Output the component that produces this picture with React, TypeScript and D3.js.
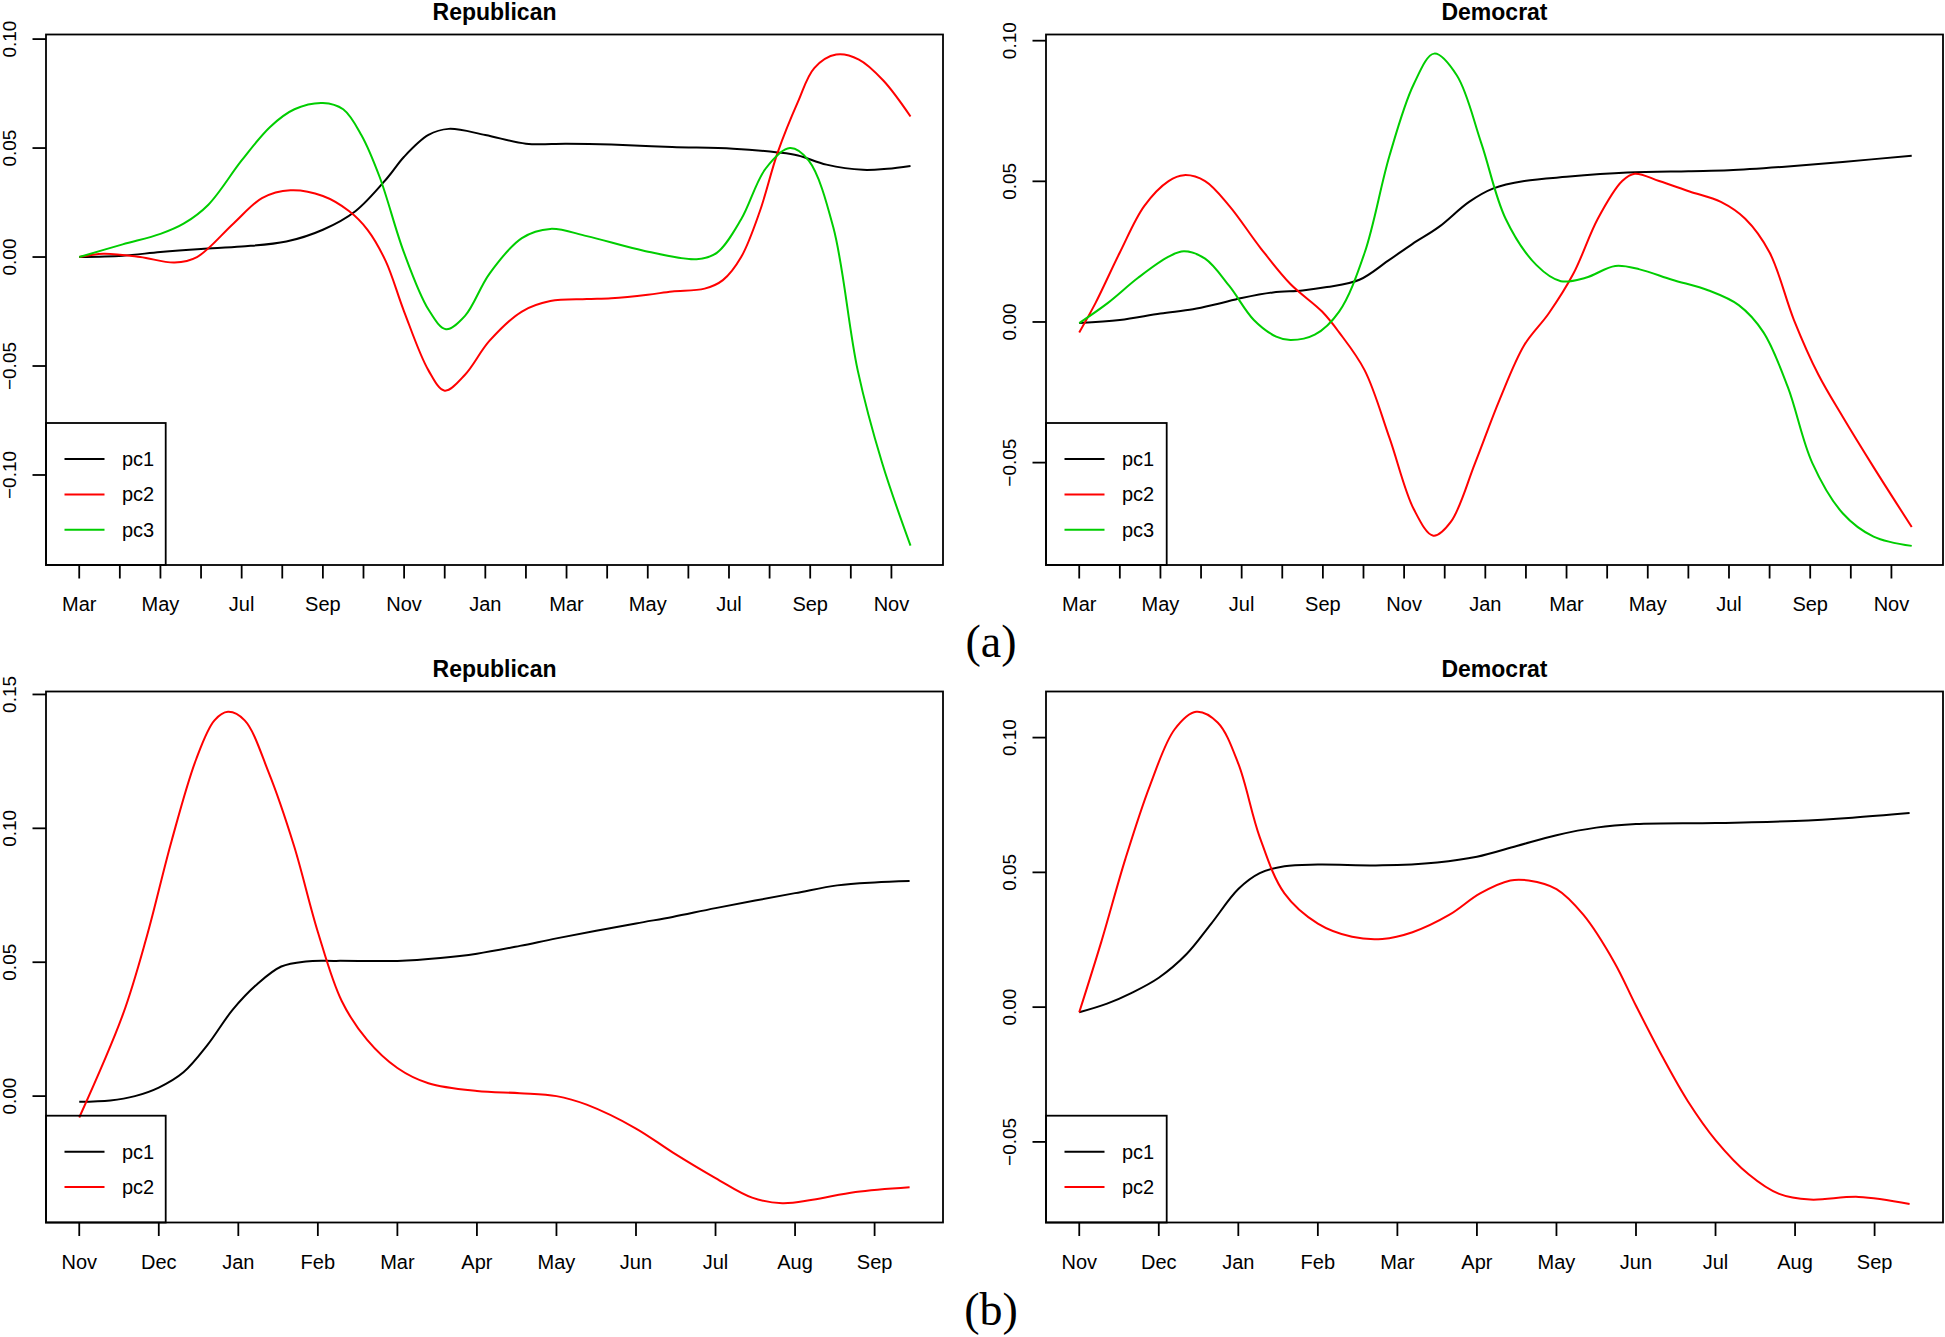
import React from "react";
import * as d3 from "d3";

// ---------- data (months since first tick, loading value) ----------
const labelsA = ["Mar", "May", "Jul", "Sep", "Nov", "Jan", "Mar", "May", "Jul", "Sep", "Nov"];
const labelsB = ["Nov", "Dec", "Jan", "Feb", "Mar", "Apr", "May", "Jun", "Jul", "Aug", "Sep"];

const yTicksRepA = [-0.1, -0.05, 0, 0.05, 0.1];
const yTicksDemA = [-0.05, 0, 0.05, 0.1];
const yTicksRepB = [0, 0.05, 0.1, 0.15];
const yTicksDemB = [-0.05, 0, 0.05, 0.1];

const repA_pc1: [number, number][] = [
  [0, 0], [1.07, 0.0006], [2, 0.0023], [3, 0.0037], [4, 0.0048], [5.1, 0.0071], [6, 0.0125],
  [6.8, 0.021], [7.6, 0.0366], [8, 0.046], [8.6, 0.056], [9.1, 0.0588], [10, 0.056], [11, 0.052],
  [12, 0.052], [13.1, 0.0516], [14.6, 0.0505], [16.1, 0.0497], [17.2, 0.048], [17.7, 0.0466],
  [18.4, 0.0424], [19.3, 0.04], [19.9, 0.0405], [20.47, 0.0418],
];
const repA_pc2: [number, number][] = [
  [0, 0], [0.6, 0.0015], [1.5, 0], [2.35, -0.0025], [2.9, 0], [3.8, 0.0154], [4.5, 0.027],
  [5.2, 0.0306], [6, 0.028], [6.65, 0.021], [7.1, 0.0125], [7.55, -0.002], [8, -0.025],
  [8.6, -0.052], [9, -0.0613], [9.5, -0.054], [10.1, -0.0385], [10.9, -0.025], [11.6, -0.0202],
  [12.5, -0.0193], [13.1, -0.0189], [14, -0.0173], [14.6, -0.0158], [15.4, -0.0145],
  [15.85, -0.0106], [16.3, 0], [16.76, 0.021], [17.2, 0.048], [17.7, 0.0713], [18.1, 0.0867],
  [18.64, 0.0929], [19.2, 0.0906], [19.8, 0.081], [20.47, 0.0645],
];
const repA_pc3: [number, number][] = [
  [0, 0], [1.07, 0.0058], [2, 0.0106], [2.58, 0.0154], [3.18, 0.024], [4, 0.0443], [4.7, 0.0597],
  [5.3, 0.0678], [6, 0.0707], [6.5, 0.0678], [6.95, 0.0559], [7.4, 0.0366], [8, 0.0019],
  [8.6, -0.0241], [9.03, -0.0331], [9.5, -0.027], [10.1, -0.0077], [10.9, 0.0087], [11.6, 0.0129],
  [12.5, 0.0096], [13.9, 0.0029], [15.2, -0.001], [15.7, 0.0019], [16.3, 0.0173], [16.9, 0.0405],
  [17.5, 0.05], [17.96, 0.0443], [18.57, 0.0135], [19.17, -0.052], [19.77, -0.0944], [20.47, -0.1324],
];

const demA_pc1: [number, number][] = [
  [0, -0.0004], [1, 0.0007], [2, 0.003], [2.8, 0.0045], [3.4, 0.0064], [4, 0.0085], [4.77, 0.0105],
  [5.5, 0.0112], [6.1, 0.0124], [6.9, 0.015], [7.6, 0.0217], [8.2, 0.0277], [8.85, 0.0337],
  [9.6, 0.0427], [10.2, 0.0475], [10.96, 0.0501], [12, 0.0516], [13.5, 0.0531], [15, 0.0536],
  [16, 0.0539], [17.3, 0.0551], [18.8, 0.0569], [20.5, 0.0591],
];
const demA_pc2: [number, number][] = [
  [0, -0.0037], [0.4, 0.0067], [1, 0.0247], [1.6, 0.0412], [2.2, 0.0501], [2.58, 0.0522],
  [3.1, 0.0501], [3.7, 0.0412], [4.47, 0.0262], [5.2, 0.0135], [5.98, 0.0037], [6.4, -0.0037],
  [7.03, -0.0172], [7.64, -0.0412], [8.24, -0.0666], [8.72, -0.076], [9.15, -0.0711],
  [9.75, -0.0501], [10.35, -0.0277], [10.96, -0.0082], [11.56, 0.003], [12.17, 0.0172],
  [12.77, 0.0367], [13.37, 0.0501], [13.68, 0.0527], [14.28, 0.0501], [15.03, 0.0464],
  [15.8, 0.0427], [16.4, 0.0367], [17, 0.0247], [17.6, 0.0007], [18.2, -0.0187], [18.8, -0.0337],
  [19.56, -0.0516], [20.5, -0.0729],
];
const demA_pc3: [number, number][] = [
  [0, -0.0004], [0.7, 0.0067], [1.45, 0.0157], [2.2, 0.0232], [2.58, 0.0251], [3.1, 0.0225],
  [3.7, 0.0127], [4.3, 0.0007], [4.85, -0.0052], [5.2, -0.0064], [5.8, -0.0045], [6.4, 0.0037],
  [7.03, 0.0247], [7.64, 0.0591], [8.24, 0.0846], [8.74, 0.0954], [9.3, 0.0876], [9.9, 0.0636],
  [10.5, 0.0367], [11.26, 0.0202], [11.86, 0.0145], [12.47, 0.0157], [13.2, 0.0199],
  [13.8, 0.0187], [14.6, 0.015], [15.5, 0.0112], [16.24, 0.006], [16.85, -0.0037],
  [17.45, -0.0232], [18.05, -0.0501], [18.8, -0.068], [19.56, -0.0763], [20.5, -0.0796],
];

const repB_pc1: [number, number][] = [
  [0, -0.0021], [0.39, -0.0016], [0.7, 0], [1, 0.0032], [1.31, 0.0089], [1.62, 0.0194],
  [1.93, 0.0323], [2.24, 0.0419], [2.54, 0.0484], [2.85, 0.0503], [3.23, 0.0505], [4, 0.0505],
  [4.54, 0.0516], [5, 0.0532], [5.54, 0.0561], [6, 0.0589], [7, 0.0645], [7.46, 0.0669],
  [8, 0.0702], [9, 0.0758], [9.53, 0.0787], [10, 0.0798], [10.44, 0.0803],
];
const repB_pc2: [number, number][] = [
  [0, -0.008], [0.55, 0.0306], [0.85, 0.0597], [1.16, 0.0952], [1.47, 0.1258],
  [1.7, 0.1403], [1.87, 0.1435], [2.08, 0.1403], [2.38, 0.121], [2.7, 0.0935], [3, 0.0613],
  [3.3, 0.0355], [3.62, 0.021], [4, 0.0105], [4.39, 0.0048], [5, 0.0019], [5.54, 0.0011],
  [6, 0], [6.38, -0.0032], [7, -0.0121], [7.46, -0.021], [8, -0.0306], [8.46, -0.0379],
  [8.84, -0.04], [9.22, -0.0387], [9.76, -0.0358], [10.44, -0.034],
];

const demB_pc1: [number, number][] = [
  [0, -0.0019], [0.35, 0.0013], [0.66, 0.0053], [1, 0.0109], [1.35, 0.0197], [1.66, 0.031],
  [2, 0.0438], [2.27, 0.0497], [2.58, 0.0523], [3, 0.0529], [3.81, 0.0526], [4.5, 0.0537],
  [5, 0.0558], [5.5, 0.0598], [6, 0.0638], [6.5, 0.0666], [7, 0.0679], [8, 0.0683], [9, 0.0691],
  [9.72, 0.0703], [10.44, 0.072],
];
const demB_pc2: [number, number][] = [
  [0, -0.0019], [0.28, 0.0245], [0.58, 0.055], [0.89, 0.0823], [1.2, 0.1031], [1.47, 0.1096],
  [1.74, 0.1056], [2, 0.0903], [2.27, 0.063], [2.58, 0.0422], [3, 0.031], [3.43, 0.0261],
  [3.81, 0.0253], [4.19, 0.0278], [4.65, 0.0342], [5.04, 0.0422], [5.42, 0.047], [5.65, 0.047],
  [6, 0.0438], [6.34, 0.0342], [6.73, 0.0165], [7, 0.0005], [7.34, -0.0188], [7.65, -0.0348],
  [8, -0.0493], [8.42, -0.0621], [8.8, -0.0693], [9.19, -0.0714], [9.8, -0.0704], [10.44, -0.073],
];

// ---------- styling / layout ----------
const COLORS = { pc1: "#000000", pc2: "#ff0000", pc3: "#00cd00" };
const FONT = "'Liberation Sans', Arial, Helvetica, sans-serif";

type Series = { name: string; color: string; data: [number, number][] };
type PanelCfg = {
  title: string;
  left: number; right: number; top: number; bottom: number;
  xDomain: [number, number]; yDomain: [number, number];
  yTicks: number[]; labels: string[]; monthStep: number; nTicks: number;
  series: Series[];
  legendRight: number; legendTop: number;
};

const rowA = { top: 34.5, bottom: 565 };
const rowB = { top: 691.5, bottom: 1222.5 };
const colL = { left: 46, right: 943 };
const colR = { left: 1046, right: 1943 };

const panels: PanelCfg[] = [
  {
    title: "Republican", ...colL, ...rowA,
    xDomain: [-0.818, 21.27], yDomain: [-0.1413, 0.1021], yTicks: yTicksRepA,
    labels: labelsA, monthStep: 2, nTicks: 21,
    series: [
      { name: "pc1", color: COLORS.pc1, data: repA_pc1 },
      { name: "pc2", color: COLORS.pc2, data: repA_pc2 },
      { name: "pc3", color: COLORS.pc3, data: repA_pc3 },
    ],
    legendRight: 165.7, legendTop: 423,
  },
  {
    title: "Democrat", ...colR, ...rowA,
    xDomain: [-0.818, 21.27], yDomain: [-0.0864, 0.1022], yTicks: yTicksDemA,
    labels: labelsA, monthStep: 2, nTicks: 21,
    series: [
      { name: "pc1", color: COLORS.pc1, data: demA_pc1 },
      { name: "pc2", color: COLORS.pc2, data: demA_pc2 },
      { name: "pc3", color: COLORS.pc3, data: demA_pc3 },
    ],
    legendRight: 1166.7, legendTop: 423,
  },
  {
    title: "Republican", ...colL, ...rowB,
    xDomain: [-0.418, 10.86], yDomain: [-0.0472, 0.1511], yTicks: yTicksRepB,
    labels: labelsB, monthStep: 1, nTicks: 11,
    series: [
      { name: "pc1", color: COLORS.pc1, data: repB_pc1 },
      { name: "pc2", color: COLORS.pc2, data: repB_pc2 },
    ],
    legendRight: 165.7, legendTop: 1115.7,
  },
  {
    title: "Democrat", ...colR, ...rowB,
    xDomain: [-0.418, 10.86], yDomain: [-0.0799, 0.1171], yTicks: yTicksDemB,
    labels: labelsB, monthStep: 1, nTicks: 11,
    series: [
      { name: "pc1", color: COLORS.pc1, data: demB_pc1 },
      { name: "pc2", color: COLORS.pc2, data: demB_pc2 },
    ],
    legendRight: 1166.7, legendTop: 1115.7,
  },
];

const fmt = (v: number) => (v < 0 ? "\u2212" : "") + Math.abs(v).toFixed(2);

function Panel({ cfg }: { cfg: PanelCfg }) {
  const x = d3.scaleLinear().domain(cfg.xDomain).range([cfg.left, cfg.right]);
  const y = d3.scaleLinear().domain(cfg.yDomain).range([cfg.bottom, cfg.top]);
  const line = d3
    .line<[number, number]>()
    .x((d) => x(d[0]))
    .y((d) => y(d[1]))
    .curve(d3.curveCatmullRom.alpha(0.5));
  const ticks = d3.range(cfg.nTicks);
  const cx = (cfg.left + cfg.right) / 2;
  const labelY = cfg.bottom + 46;
  const legRowH = 35.4;
  return (
    <g>
      <text x={cx} y={cfg.top - 14.5} textAnchor="middle" fontFamily={FONT} fontWeight="bold" fontSize={23}>
        {cfg.title}
      </text>
      {cfg.series.map((s) => (
        <path key={s.name} d={line(s.data) || ""} fill="none" stroke={s.color} strokeWidth={2} />
      ))}
      <rect x={cfg.left} y={cfg.top} width={cfg.right - cfg.left} height={cfg.bottom - cfg.top}
        fill="none" stroke="#000" strokeWidth={1.8} />
      {ticks.map((t) => (
        <line key={t} x1={x(t)} x2={x(t)} y1={cfg.bottom} y2={cfg.bottom + 13.5} stroke="#000" strokeWidth={1.8} />
      ))}
      {cfg.labels.map((lab, i) => (
        <text key={i} x={x(i * cfg.monthStep)} y={labelY} textAnchor="middle" fontFamily={FONT} fontSize={20}>
          {lab}
        </text>
      ))}
      {cfg.yTicks.map((v) => (
        <g key={v}>
          <line x1={cfg.left - 13.5} x2={cfg.left} y1={y(v)} y2={y(v)} stroke="#000" strokeWidth={1.8} />
          <text transform={`translate(${cfg.left - 30},${y(v)}) rotate(-90)`} textAnchor="middle"
            fontFamily={FONT} fontSize={19}>
            {fmt(v)}
          </text>
        </g>
      ))}
      <rect x={cfg.left} y={cfg.legendTop} width={cfg.legendRight - cfg.left} height={cfg.bottom - cfg.legendTop}
        fill="none" stroke="#000" strokeWidth={1.8} />
      {cfg.series.map((s, i) => {
        const ly = cfg.legendTop + 36 + i * legRowH;
        return (
          <g key={s.name}>
            <line x1={cfg.left + 18.5} x2={cfg.left + 58.5} y1={ly} y2={ly} stroke={s.color} strokeWidth={2} />
            <text x={cfg.left + 76} y={ly + 7} fontFamily={FONT} fontSize={20}>
              {s.name}
            </text>
          </g>
        );
      })}
    </g>
  );
}

export default function App() {
  return (
    <svg width={1945} height={1337} viewBox="0 0 1945 1337"
      style={{ position: "absolute", left: 0, top: 0, background: "#fff" }}>
      <rect x={0} y={0} width={1945} height={1337} fill="#fff" />
      {panels.map((p, i) => (
        <Panel key={i} cfg={p} />
      ))}
      <text x={991} y={657} textAnchor="middle" fontFamily="'Liberation Serif', 'Times New Roman', serif" fontSize={46}>
        (a)
      </text>
      <text x={991} y={1325} textAnchor="middle" fontFamily="'Liberation Serif', 'Times New Roman', serif" fontSize={46}>
        (b)
      </text>
    </svg>
  );
}
